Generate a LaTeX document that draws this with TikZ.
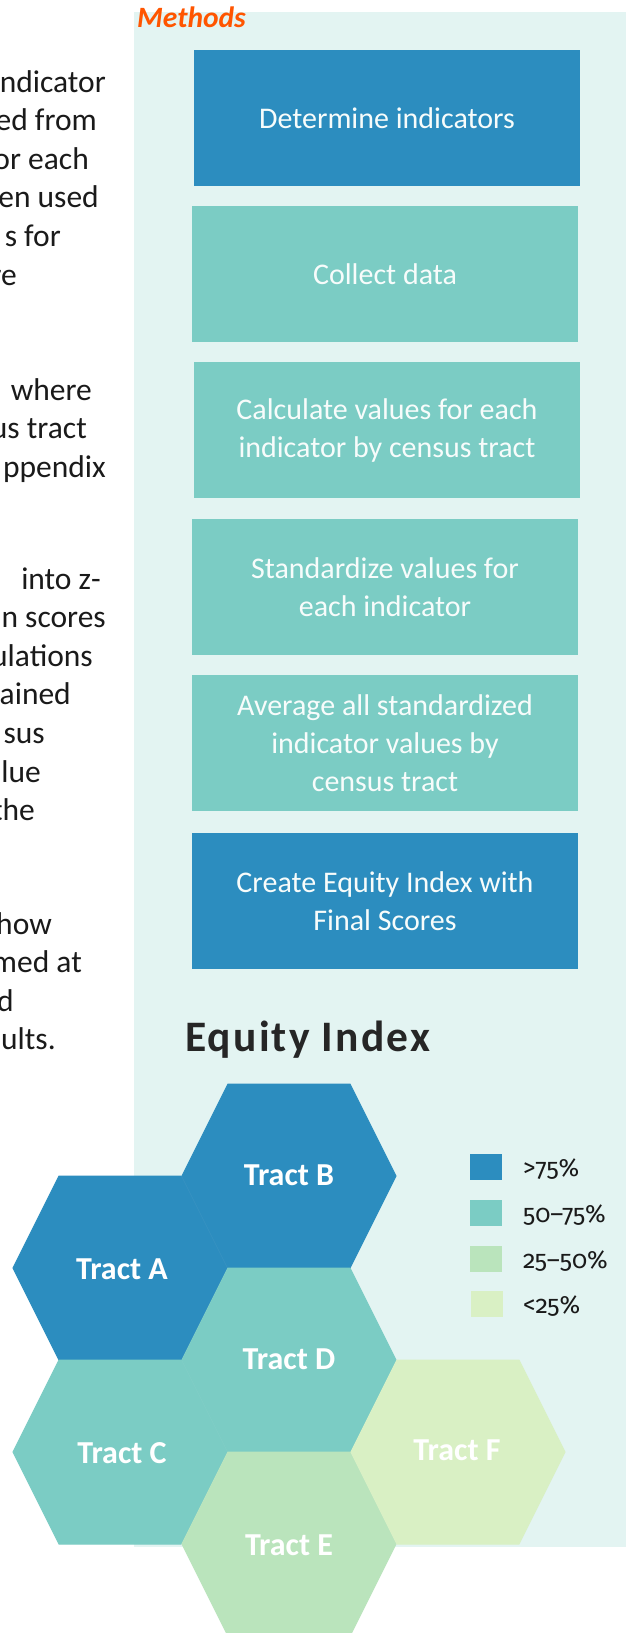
\documentclass[tikz,border=0pt]{standalone}
\usepackage{fontspec}
\setmainfont{Carlito}
\newfontfamily\legendfont[Numbers=OldStyle]{Fira Sans}
\newfontfamily\titlefont[LetterSpace=5]{Carlito}

\definecolor{panelbg}{HTML}{E3F4F2}
\definecolor{darkblue}{HTML}{2C8DBF}
\definecolor{teal}{HTML}{7BCCC4}
\definecolor{midgreen}{HTML}{BAE4BC}
\definecolor{palegreen}{HTML}{D9F0C4}
\definecolor{methodsorange}{HTML}{FF5500}
\definecolor{bodytext}{HTML}{1A1A1A}
\definecolor{titlegray}{HTML}{262626}

\tikzset{
  stepbox/.style={minimum width=386pt, minimum height=136pt, inner sep=0pt,
    align=center, text=white!94!teal, font=\fontsize{30}{38}\selectfont},
  sidetext/.style={anchor=base east, inner sep=0pt, text=bodytext,
    font=\fontsize{31.5}{38.6}\selectfont},
  tractlabel/.style={text=white, inner sep=0pt, font=\fontsize{32}{38}\selectfont\bfseries},
  keybox/.style={minimum width=32pt, minimum height=26pt, inner sep=0pt},
  keylabel/.style={anchor=base west, inner sep=0pt, text=bodytext,
    font=\legendfont\fontsize{25}{30}\selectfont},
  pics/hexcell/.style={code={
    \filldraw[fill=#1, draw=#1, line width=1pt]
      (-107,0) -- (-61,-92) -- (61,-92) -- (107,0) -- (61,92) -- (-61,92) -- cycle;}}
}

\begin{document}
\begin{tikzpicture}[x=1pt,y=-1pt]
  \fill[white] (0,0) rectangle (626,1633);
  \useasboundingbox (0,0) rectangle (626,1633);

  % text running in from the left column
  \node[sidetext] (t1) at (106,92) {ndicator};
  \node[sidetext] (t2) at (97,130.6) {ed from};
  \node[sidetext] (t3) at (89,169.2) {or each};
  \node[sidetext] (t4) at (99,207.8) {en used};
  \node[sidetext] (t5) at (61,246.4) {s for};
  \node[sidetext] (t6) at (17,285) {re};

  \node[sidetext] (t7) at (92,400) {where};
  \node[sidetext] (t8) at (87,438.6) {us tract};
  \node[sidetext] (t9) at (106,477.2) {ppendix};

  \node[sidetext] (t10) at (101,589) {into z-};
  \node[sidetext] (t11) at (106,627.6) {n scores};
  \node[sidetext] (t12) at (93,666.2) {ulations};
  \node[sidetext] (t13) at (71,704.8) {ained};
  \node[sidetext] (t14) at (45,743.4) {sus};
  \node[sidetext] (t15) at (41,782) {lue};
  \node[sidetext] (t16) at (35,820.6) {the};

  \node[sidetext] (t17) at (52,934) {how};
  \node[sidetext] (t18) at (82,972.6) {med at};
  \node[sidetext] (t19) at (14,1011.2) {d};
  \node[sidetext] (t20) at (56,1049.8) {sults.};

  % methods panel
  \fill[panelbg] (134,12) rectangle (626,1547);
  \node[anchor=base west, inner sep=0pt, text=methodsorange,
    font=\fontsize{29.5}{32}\selectfont\bfseries\itshape] (methods) at (137,27) {Methods};

  \node[stepbox, fill=darkblue] (determine) at (387,118) {Determine indicators};
  \node[stepbox, fill=teal] (collect) at (385,274) {Collect data};
  \node[stepbox, fill=teal] (calculate) at (387,430) {Calculate values for each\\indicator by census tract};
  \node[stepbox, fill=teal] (standardize) at (385,587) {Standardize values for\\each indicator};
  \node[stepbox, fill=teal] (average) at (385,743) {Average all standardized\\indicator values by\\census tract};
  \node[stepbox, fill=darkblue] (create) at (385,901) {Create Equity Index with\\Final Scores};

  \node[anchor=base west, inner sep=0pt, text=titlegray,
    font=\titlefont\fontsize{43.5}{50}\selectfont\bfseries] (eqtitle) at (185,1051) {Equity Index};

  % tract map
  \pic at (120,1268) {hexcell=darkblue};
  \pic at (289,1176) {hexcell=darkblue};
  \pic at (120,1452) {hexcell=teal};
  \pic at (289,1360) {hexcell=teal};
  \pic at (289,1544) {hexcell=midgreen};
  \pic at (458,1452) {hexcell=palegreen};

  \node[tractlabel] (tractA) at (122,1269) {Tract A};
  \node[tractlabel] (tractB) at (289,1175) {Tract B};
  \node[tractlabel] (tractC) at (122,1453) {Tract C};
  \node[tractlabel] (tractD) at (289,1359) {Tract D};
  \node[tractlabel] (tractE) at (289,1545) {Tract E};
  \node[tractlabel] (tractF) at (457,1450) {Tract F};

  % legend
  \node[keybox, fill=darkblue] (key1) at (486,1167) {};
  \node[keybox, fill=teal] (key2) at (486,1213) {};
  \node[keybox, fill=midgreen] (key3) at (486,1259) {};
  \node[keybox, fill=palegreen] (key4) at (487,1304) {};
  \node[keylabel] (lab1) at (523,1176) {>75\%};
  \node[keylabel] (lab2) at (523,1222) {50–75\%};
  \node[keylabel] (lab3) at (523,1268) {25–50\%};
  \node[keylabel] (lab4) at (523,1313) {<25\%};
\end{tikzpicture}
\end{document}
